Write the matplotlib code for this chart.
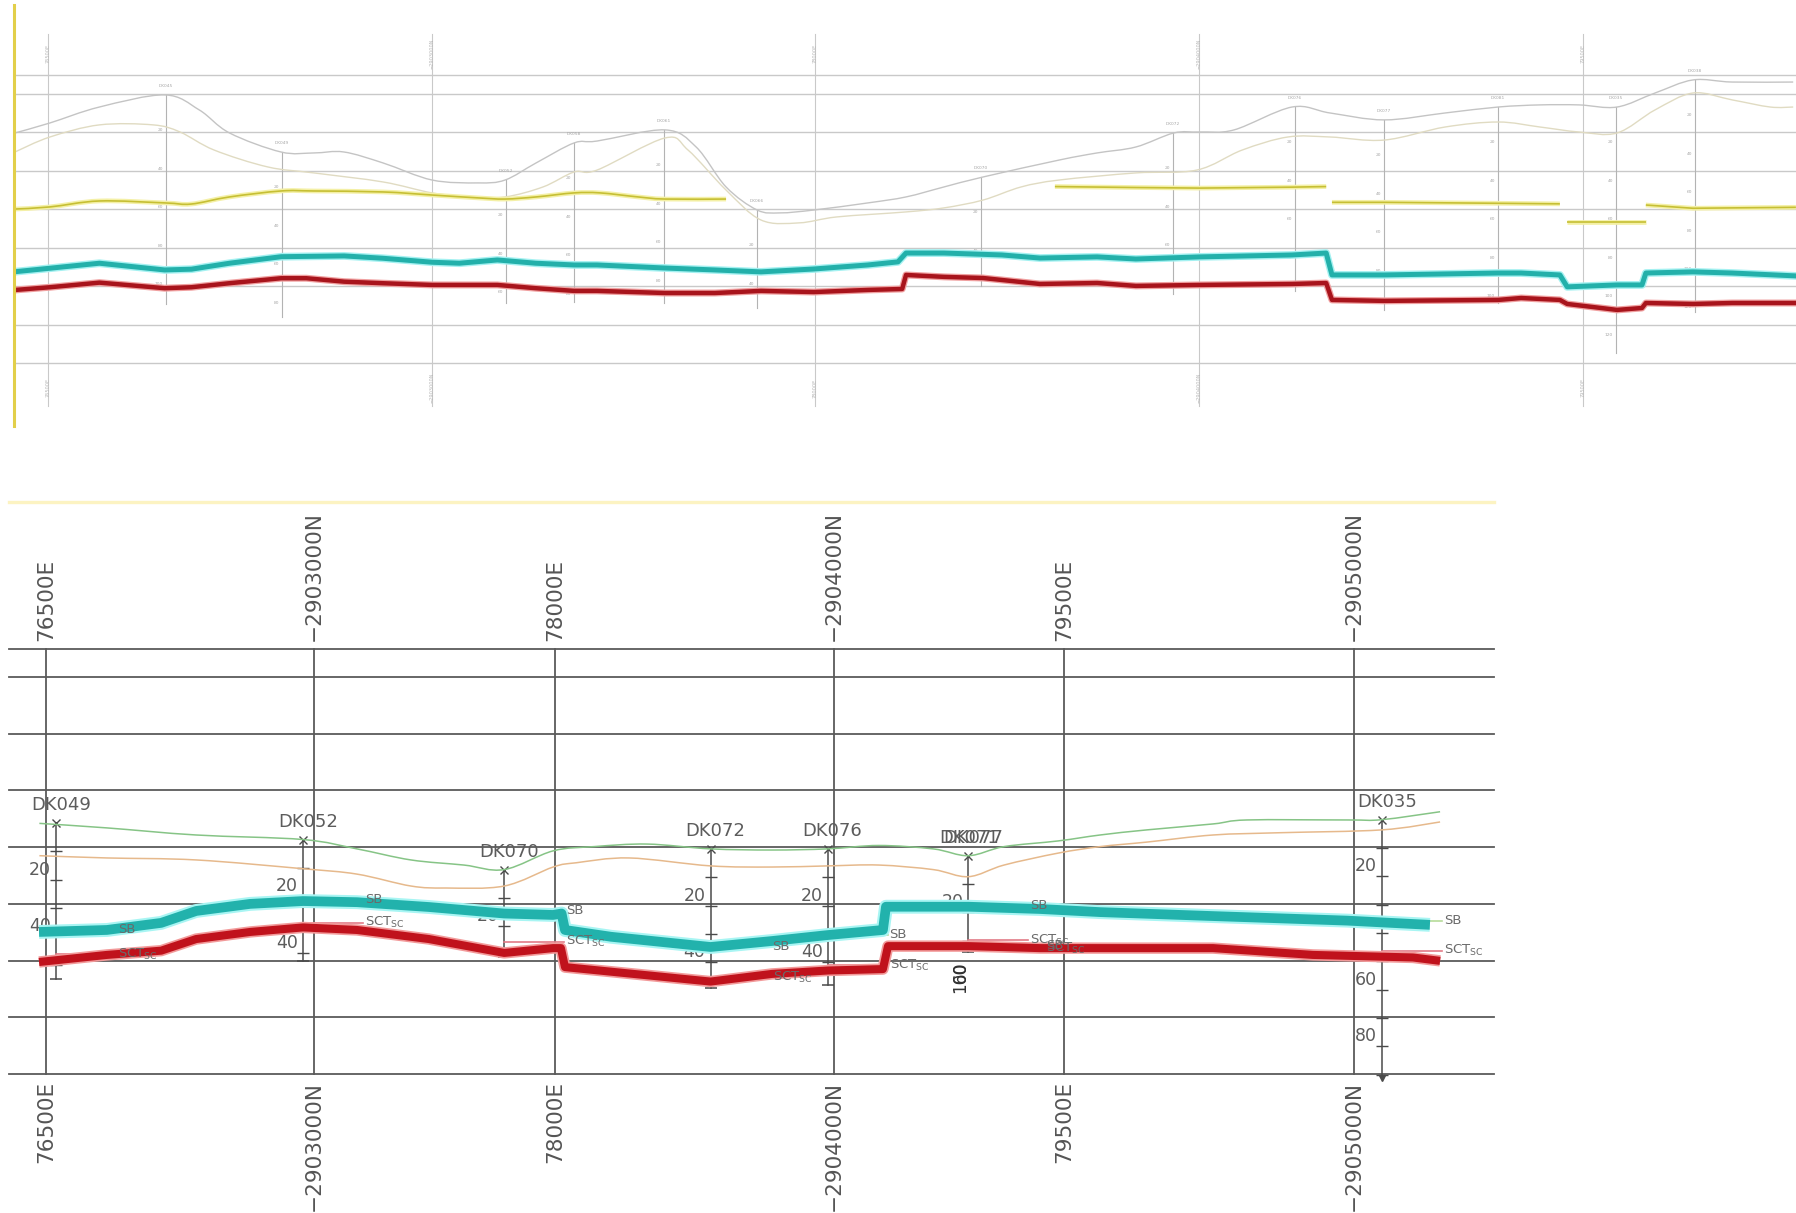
import numpy as np
import matplotlib
matplotlib.use("Agg")
import matplotlib.pyplot as plt
import matplotlib.patheffects as pe
from matplotlib.lines import Line2D
from matplotlib.path import Path
from matplotlib.patches import PathPatch

plt.rcParams["font.family"] = ["DejaVu Sans"]
plt.rcParams["mathtext.fontset"] = "dejavusans"

W, H, DPI = 1796, 1213, 100

# ===================== overview section (chainage m, elevation m) =====================
ov_grid_chain = [0, 1000, 2000, 3000, 4000]
ov_grid_labels = ["76500E", "−2903000N", "78000E", "−2904000N", "79500E"]
ov_elev_lines = [0, 20, 40, 60, 80, 100, 120, 140, 150]

ov_topo_c = [-86, 5, 134, 304, 394, 473, 607, 693, 771, 873, 1001, 1121, 1191, 1272, 1371,
             1431, 1608, 1689, 1767, 1848, 1908, 1996, 2137, 2236, 2335, 2437, 2635, 2734,
             2835, 2934, 3002, 3091, 3242, 3341, 3482, 3641, 3779, 3888, 3990, 4089, 4188,
             4287, 4389, 4548]
ov_topo_z = [119.7, 124.9, 133.2, 139.5, 131.7, 119.7, 109.8, 109.3, 109.8, 104.1, 95.2, 93.7,
             95.2, 104.1, 114.5, 115.5, 121.3, 112.4, 91.6, 79.6, 78.1, 79.6, 83.3, 86.4, 91.6,
             96.8, 105.6, 109.3, 112.4, 119.7, 120.2, 121.3, 133.2, 130.1, 126.5, 130.1, 133.2,
             134.3, 134.3, 133.2, 140.5, 147.3, 146.2, 146.2]

ov_weath_c = [-86, 5, 134, 274, 344, 433, 573, 693, 873, 1001, 1102, 1191, 1290, 1371, 1431,
              1608, 1668, 1767, 1858, 1957, 2056, 2236, 2335, 2437, 2536, 2635, 2835, 2994,
              3112, 3231, 3341, 3482, 3641, 3779, 3888, 3990, 4089, 4188, 4287, 4389, 4488, 4548]
ov_weath_z = [109.8, 117.6, 123.9, 123.9, 120.2, 110.8, 102.0, 98.9, 94.2, 88.5, 86.4, 86.4,
              91.6, 99.4, 100.4, 117.1, 110.8, 90.0, 74.4, 72.9, 76.0, 78.6, 80.7, 84.8, 91.6,
              95.2, 98.9, 100.4, 110.8, 117.6, 117.6, 116.0, 122.8, 125.4, 122.8, 120.2, 119.7,
              131.7, 140.5, 136.9, 133.2, 133.2]

# water table, drawn as separate pieces
ov_water1_c = [-86, 5, 134, 304, 373, 473, 607, 693, 873, 1001, 1121, 1191, 1272, 1371, 1439,
               1538, 1608, 1767]
ov_water1_z = [80.1, 81.2, 84.3, 83.3, 82.7, 86.4, 89.5, 89.5, 89.0, 87.4, 85.9, 85.3, 86.4,
               88.5, 88.5, 86.4, 85.3, 85.3]
ov_water2_c = [2624, 2835, 3002, 3242, 3331]
ov_water2_z = [91.8, 91.3, 91.0, 91.5, 91.8]
ov_water3_c = [3346, 3482, 3779, 3940]
ov_water3_z = [83.6, 83.6, 83.1, 82.8]
ov_water4_c = [3959, 4164]
ov_water4_z = [73.4, 73.4]
ov_water5_c = [4164, 4287, 4389, 4555]
ov_water5_z = [82.2, 80.5, 80.7, 81.0]

ov_sb_c = [-85, 5, 134, 304, 374, 473, 608, 772, 872, 1002, 1072, 1171, 1271, 1371, 1431,
           1608, 1738, 1858, 1996, 2137, 2215, 2236, 2335, 2486, 2585, 2734, 2835, 3002, 3242,
           3331, 3346, 3482, 3779, 3839, 3940, 3959, 4089, 4154, 4164, 4287, 4389, 4555]
ov_sb_z = [47.5, 49.3, 51.9, 48.4, 48.8, 51.9, 55.3, 55.7, 54.5, 52.4, 51.9, 53.6, 51.9, 51.0,
           51.0, 49.4, 48.4, 47.4, 48.9, 51.0, 52.6, 57.2, 57.2, 56.2, 54.6, 55.2, 54.1, 55.2,
           56.2, 57.2, 45.8, 45.8, 46.8, 46.8, 45.8, 39.6, 40.6, 40.6, 46.8, 47.4, 46.8, 45.3]

ov_sct_c = [-85, 5, 134, 304, 374, 473, 608, 673, 772, 872, 1002, 1171, 1271, 1371, 1431,
            1608, 1738, 1858, 1996, 2137, 2226, 2236, 2335, 2437, 2585, 2734, 2835, 3002, 3242,
            3331, 3346, 3482, 3779, 3839, 3940, 3959, 4089, 4154, 4164, 4287, 4389, 4555]
ov_sct_z = [38.0, 39.4, 41.8, 38.9, 39.4, 41.5, 44.1, 44.1, 42.3, 41.5, 40.6, 40.6, 38.9, 37.5,
            37.5, 36.4, 36.4, 37.5, 36.9, 38.0, 38.5, 45.8, 44.8, 44.2, 41.1, 41.6, 40.1, 40.6,
            41.1, 41.6, 32.8, 32.3, 32.8, 33.8, 32.8, 30.7, 27.6, 28.6, 31.2, 30.7, 31.2, 31.2]

ov_hole_ids = ["DK045", "DK049", "DK052", "DK058", "DK061", "DK066", "DK070", "DK072",
               "DK076", "DK077", "DK081", "DK035", "DK038"]
ov_hole_chain = [308, 610, 1194, 1371, 1605, 1848, 2431, 2932, 3250, 3482, 3779, 4086, 4292]
ov_hole_collar = [139.5, 109.8, 95.2, 114.5, 121.3, 79.6, 96.8, 119.7, 133.2, 126.5, 133.2,
                  133.2, 147.3]
ov_hole_depth = [109, 86, 64, 83, 90, 51, 57, 84, 96, 99, 102, 128, 121]

# ===================== detail section (easting m, elevation m) =====================
grid_labels = ["76500E", "−2903000N", "78000E", "−2904000N", "79500E", "−2905000N"]
grid_east = [76500, 77290, 78000, 78822, 79500, 80356]
elev_lines = [0, 20, 40, 60, 80, 100, 120, 140, 150]

topo_e = [76481, 76680, 76943, 77258, 77417, 77576, 77732, 77851, 77995, 78116, 78272, 78459,
          78640, 78804, 78955, 79115, 79219, 79324, 79483, 79607, 79745, 79940, 80040, 80335,
          80437, 80609]
topo_z = [88.4, 86.8, 84.3, 82.7, 79.4, 75.5, 73.7, 72.1, 78.7, 80.2, 81.1, 79.4, 79.0, 79.4,
          80.6, 79.4, 77.0, 80.2, 82.2, 84.3, 86.1, 88.2, 89.6, 89.6, 89.7, 92.5]

weath_e = [76481, 76680, 76943, 77258, 77417, 77576, 77679, 77851, 77995, 78063, 78219, 78459,
           78640, 78804, 78955, 79115, 79219, 79324, 79483, 79607, 79745, 79940, 80137, 80437,
           80609]
weath_z = [77.0, 76.2, 75.5, 72.4, 70.5, 66.3, 65.6, 66.3, 73.0, 74.5, 76.2, 73.4, 73.0, 73.4,
           73.7, 72.1, 69.6, 73.7, 77.9, 80.2, 81.8, 84.3, 85.1, 86.1, 88.9]

sb_e = [76480, 76680, 76840, 76943, 77102, 77258, 77417, 77629, 77851, 77995, 78020, 78030,
        78166, 78459, 78640, 78804, 78967, 78976, 79219, 79430, 79607, 79940, 80335, 80579]
sb_z = [50.1, 50.8, 53.3, 57.5, 60.0, 61.0, 60.6, 58.9, 56.6, 56.1, 56.6, 50.8, 48.4, 44.8,
        46.9, 49.0, 50.8, 59.0, 59.0, 58.2, 57.1, 55.7, 54.1, 52.6]

sct_e = [76480, 76680, 76840, 76943, 77102, 77258, 77417, 77629, 77851, 77995, 78018, 78030,
         78459, 78640, 78804, 78967, 78982, 79219, 79430, 79607, 79940, 80234, 80529, 80609]
sct_z = [39.5, 42.0, 43.5, 47.6, 50.1, 51.7, 50.8, 47.6, 42.7, 44.4, 44.4, 37.7, 32.6, 35.3,
         36.5, 37.0, 45.1, 45.1, 44.4, 44.4, 44.4, 42.0, 41.1, 39.9]

hole_ids = ["DK049", "DK052", "DK070", "DK072", "DK076", "DK077", "DK035"]
hole_east = [76530, 77258, 77851, 78459, 78804, 79219, 80437]
hole_collar = [88.5, 82.7, 72.1, 79.4, 79.4, 77.0, 89.7]
hole_depth = [55, 43, 31, 49, 48, 34, 91]
hole_sb = [50.8, 61.4, 57.6, 45.1, 49.2, 59.3, 54.0]
hole_sct = [42.3, 53.3, 46.7, 34.2, 38.3, 47.1, 43.5]

# second hole logged at the DK077 collar
twin_id = "DK071"
twin_sb = 45.4
twin_sct = 44.4
twin_depth_labels = ["100", "60"]

# ===================== figure =====================
fig = plt.figure(figsize=(W / DPI, H / DPI), dpi=DPI)
fig.patch.set_facecolor("white")


def px_axes(x0, y0, x1, y1):
    ax = fig.add_axes([x0 / W, 1 - y1 / H, (x1 - x0) / W, (y1 - y0) / H])
    ax.set_axis_off()
    return ax


def halo(width, colour):
    return [pe.Stroke(linewidth=width, foreground=colour), pe.Normal()]


def smooth_line(ax, x, y, **kw):
    """Draw a curve through the given vertices using Catmull-Rom Bezier segments."""
    pts = np.column_stack([x, y]).astype(float)
    n = len(pts)
    verts = [pts[0]]
    codes = [Path.MOVETO]
    for i in range(n - 1):
        p0 = pts[max(i - 1, 0)]
        p1 = pts[i]
        p2 = pts[i + 1]
        p3 = pts[min(i + 2, n - 1)]
        verts += [p1 + (p2 - p0) / 6.0, p2 - (p3 - p1) / 6.0, p2]
        codes += [Path.CURVE4] * 3
    patch = PathPatch(Path(verts, codes), fill=False, **kw)
    ax.add_patch(patch)
    return patch


# ---------------- overview panel ----------------
ax1 = px_axes(14, 0, 1796, 430)
ax1.set_xlim(-88.6, 4555.3)
ax1.set_ylim(-34.9, 188.9)

light = "#c9c9c9"
for z in ov_elev_lines:
    ax1.axhline(z, color=light, lw=1.0, zorder=1)
for c, lab in zip(ov_grid_chain, ov_grid_labels):
    ax1.plot([c, c], [-22.4, 171.2], color=light, lw=0.8, zorder=1)
    for zl in (161.0, -13.0):
        ax1.text(c, zl, lab, rotation=90, ha="center", va="center", fontsize=3.6,
                 color="#b8b8b8", zorder=2)

for name, c, top, d in zip(ov_hole_ids, ov_hole_chain, ov_hole_collar, ov_hole_depth):
    ax1.plot([c, c], [top, top - d], color="#b3b3b3", lw=0.8, zorder=2)
    ax1.annotate(name, (c, top), xytext=(0, 7), textcoords="offset pixels", ha="center",
                 va="bottom", fontsize=3.2, color="#a8a8a8", zorder=2)
    for dd in range(20, int(d) + 1, 20):
        ax1.annotate(str(dd), (c, top - dd), xytext=(-3, 1), textcoords="offset pixels",
                     ha="right", va="bottom", fontsize=3.2, color="#a8a8a8", zorder=2)

smooth_line(ax1, ov_weath_c, ov_weath_z, edgecolor="#e0dbc2", lw=1.0, zorder=3)
smooth_line(ax1, ov_topo_c, ov_topo_z, edgecolor="#c4c4c4", lw=1.0, zorder=3)
smooth_line(ax1, ov_water1_c, ov_water1_z, edgecolor="#c6bf34", lw=1.2, zorder=4,
            capstyle="butt", path_effects=halo(3.4, "#f4f0a6"))
for wc, wz in [(ov_water2_c, ov_water2_z), (ov_water3_c, ov_water3_z),
               (ov_water4_c, ov_water4_z), (ov_water5_c, ov_water5_z)]:
    ax1.plot(wc, wz, color="#c6bf34", lw=1.2, zorder=4, solid_capstyle="butt",
             path_effects=halo(3.4, "#f4f0a6"))
ax1.plot(ov_sb_c, ov_sb_z, color="#23b0aa", lw=3.6, zorder=5, solid_joinstyle="round",
         path_effects=halo(5.6, "#a4f1f1"))
ax1.plot(ov_sct_c, ov_sct_z, color="#a8141c", lw=3.2, zorder=5, solid_joinstyle="round",
         path_effects=halo(5.0, "#f0a0a0"))

fig.add_artist(Line2D([14 / W, 14 / W], [1 - 5 / H, 1 - 426 / H], color="#e2cf4a", lw=2.2))

# ---------------- detail panel ----------------
ax2 = px_axes(9, 649, 1494, 1074)
ax2.set_xlim(76391.5, 80767.9)
ax2.set_ylim(0, 149.9)
m_per_px = (80767.9 - 76391.5) / (1494 - 9)

fig.add_artist(Line2D([9 / W, 1494 / W], [1 - 502 / H, 1 - 502 / H], color="#fcf3c2", lw=2.4))

dark = "#5a5a5a"
for z in elev_lines:
    ax2.axhline(z, color=dark, lw=1.3, zorder=1, clip_on=False)
for e, lab in zip(grid_east, grid_labels):
    ax2.plot([e, e], [0, 150], color=dark, lw=1.3, zorder=1, clip_on=False)
    ax2.annotate(lab, (e, 150), xytext=(0, 8), textcoords="offset pixels", rotation=90,
                 ha="center", va="bottom", fontsize=15.6, color="#555555",
                 annotation_clip=False)
    ax2.annotate(lab, (e, 0), xytext=(0, -7), textcoords="offset pixels", rotation=90,
                 ha="center", va="top", fontsize=15.6, color="#555555", annotation_clip=False)

smooth_line(ax2, topo_e, topo_z, edgecolor="#86c486", lw=1.1, zorder=3)
smooth_line(ax2, weath_e, weath_z, edgecolor="#e6b98c", lw=1.1, zorder=3)

# boreholes
hole_col = "#4a4a4a"
txt_col = "#5c5c5c"
for name, e, top, d in zip(hole_ids, hole_east, hole_collar, hole_depth):
    bottom = top - d
    ax2.plot([e, e], [top, bottom], color=hole_col, lw=1.1, zorder=2, clip_on=False)
    ax2.plot(e, top, marker="x", ms=6, mew=1.0, color=hole_col, zorder=2)
    if bottom < 0:
        ax2.plot(e, bottom, marker="v", ms=5, color=hole_col, zorder=2, clip_on=False)
    else:
        ax2.plot(e, bottom, marker="_", ms=9, mew=1.1, color=hole_col, zorder=2)
    ticks = list(range(10, int(d) + 1, 10))
    ax2.plot([e] * len(ticks), [top - t for t in ticks], ls="none", marker="_", ms=8,
             mew=1.0, color=hole_col, zorder=2, clip_on=False)
    for dd in range(20, int(d) + 1, 20):
        ax2.annotate(str(dd), (e, top - dd), xytext=(-5, 1), textcoords="offset pixels",
                     ha="right", va="bottom", fontsize=12.5, color=txt_col, zorder=2)
    ax2.annotate(name, (e, top), xytext=(5, 9), textcoords="offset pixels", ha="center",
                 va="bottom", fontsize=13, color=txt_col, zorder=2)

# twin log at DK077
k = hole_ids.index("DK077")
ax2.annotate(twin_id, (hole_east[k], hole_collar[k]), xytext=(1, 9), textcoords="offset pixels",
             ha="center", va="bottom", fontsize=13, color=txt_col, zorder=2)
for lab, dy in zip(twin_depth_labels, (-2, 2)):
    ax2.annotate(lab, (hole_east[k], hole_collar[k] - 42), xytext=(-8, dy),
                 textcoords="offset pixels", rotation=90, ha="center", va="center",
                 fontsize=12, color="#333333", zorder=2)

# horizons
ax2.plot(sb_e, sb_z, color="#22b2ac", lw=7, zorder=5, solid_joinstyle="round",
         solid_capstyle="butt", path_effects=halo(10, "#a8f5f3"))
ax2.plot(sct_e, sct_z, color="#c0121c", lw=5.8, zorder=5, solid_joinstyle="round",
         solid_capstyle="butt", path_effects=halo(8.2, "#f29a9a"))

# contact picks
lead = 60 * m_per_px
sct_text = r"SCT$_{\mathrm{SC}}$"
for e, zsb, zsct in zip(hole_east, hole_sb, hole_sct):
    ax2.plot([e, e + lead], [zsb, zsb], color="#b6dc9a", lw=1.2, zorder=4)
    ax2.plot([e, e + lead], [zsct, zsct], color="#e27a86", lw=1.2, zorder=4)
    ax2.annotate("SB", (e + lead, zsb), xytext=(2, 0), textcoords="offset pixels",
                 ha="left", va="center", fontsize=9.5, color="#6a6a6a", zorder=6)
    ax2.annotate(sct_text, (e + lead, zsct), xytext=(2, 0), textcoords="offset pixels",
                 ha="left", va="center", fontsize=9.5, color="#6a6a6a", zorder=6)
ax2.annotate("SB", (hole_east[k] + lead, twin_sb), xytext=(18, 0), textcoords="offset pixels",
             ha="left", va="center", fontsize=9.5, color="#6a6a6a", zorder=6)
ax2.annotate(sct_text, (hole_east[k] + lead, twin_sct), xytext=(18, 0),
             textcoords="offset pixels", ha="left", va="center", fontsize=9.5,
             color="#6a6a6a", zorder=6)

fig.savefig("out.png", dpi=DPI, facecolor="white")
